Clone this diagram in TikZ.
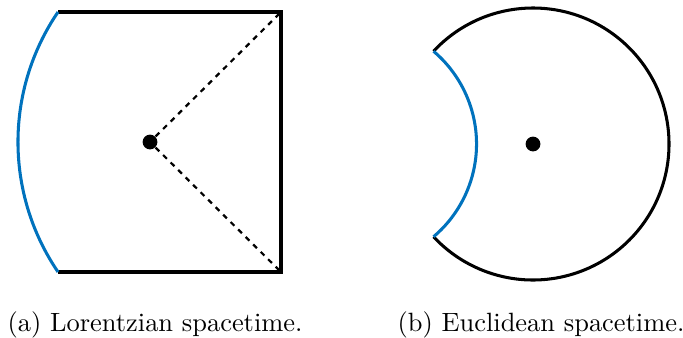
\documentclass[tikz,border=0pt]{standalone}
\usepackage{xcolor}
\usepackage{tikz}
\usetikzlibrary{calc}
\definecolor{EdgeBlue}{HTML}{0072BD}

\begin{document}
\begin{tikzpicture}[
    x=0.3784pt, y=0.3784pt,
    % Style for the solid outline
    wall/.style = {line width=1.15pt, color=black, line join=miter},
    % Style for the blue boundary
    edge/.style = {line width=1.15pt, color=EdgeBlue},
    % Style for the dashed light rays
    ray/.style = {line width=0.85pt, dash pattern=on 2pt off 2pt},
    % Style for the centre points
    dot/.style = {circle, fill=black, inner sep=0pt, minimum size=5.6pt},
    % Style for the captions
    caption/.style = {anchor=base, font=\normalsize},
]
\useasboundingbox (0,0) rectangle (683,337);

% --- 1. DEFINE POINTS ---

% Lorentzian
\node[dot] (ldot) at (150,195) {};
\coordinate (ltl) at (58,325);
\coordinate (ltr) at (281,325);
\coordinate (lbr) at (281,65);
\coordinate (lbl) at (58,65);

% Euclidean
\node[dot] (rdot) at (533,193) {};
\coordinate (rtop) at ($(rdot)+(137:136)$);


% --- 2. DRAW OUTLINES ---
\draw[wall] (ltl) -- (ltr) -- (lbr) -- (lbl);
\draw[edge] (ltl) arc[start angle=145.76, end angle=214.24, radius=231];

\draw[wall] (rtop) arc[start angle=137, end angle=-137, radius=136];
\draw[edge] (rtop) arc[start angle=49.74, end angle=-49.74, radius=121.54];


% --- 3. DRAW RAYS ---
\draw[ray] (ldot) -- (ltr);
\draw[ray] (ldot) -- (lbr);


% --- 4. CAPTIONS ---
\node[caption] (capL) at (155,6) {(a) Lorentzian spacetime.};
\node[caption] (capR) at (541,6) {(b) Euclidean spacetime.};

\end{tikzpicture}
\end{document}
